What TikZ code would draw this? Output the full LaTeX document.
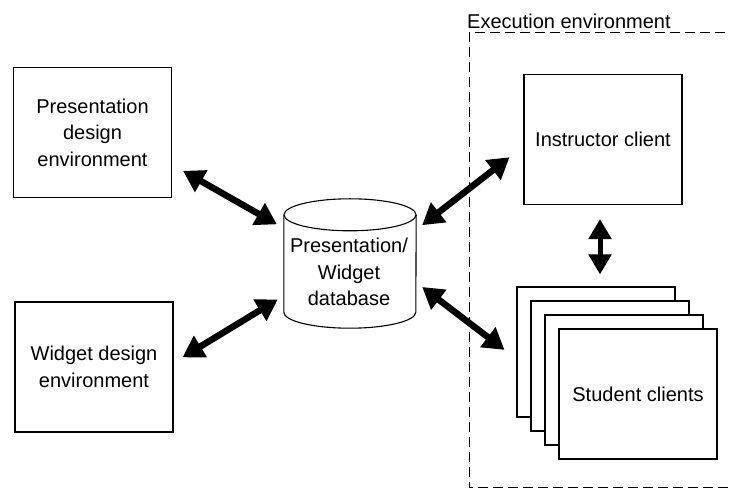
\documentclass[tikz,border=0pt]{standalone}
\usepackage{fontspec}
\setmainfont{Liberation Sans}
\usetikzlibrary{arrows.meta}

\begin{document}
\begin{tikzpicture}[
  x=1pt,y=1pt,
  every node/.style={font=\fontsize{20}{26.5}\selectfont},
  box/.style={draw,line width=1.1pt,fill=white,inner sep=0pt,
              minimum width=158pt,minimum height=130pt,align=center},
  link/.style={line width=6.5pt,<->,>={Triangle[length=21pt,width=24pt]}}
]
  \useasboundingbox (0,0) rectangle (729,490);

  % execution environment, open on the right
  \draw[line width=1pt,dash pattern=on 10pt off 5pt]
    (740,457) -- (469,457) -- (469,2) -- (740,2);
  \node[anchor=base west,inner sep=0pt] (envlabel) at (467,461) {Execution environment};

  % design tools
  \node[box] (pde) at (92.5,357.5) {Presentation\\design\\environment};
  \node[box] (wde) at (94,123) {Widget design\\environment};

  % database cylinder
  \node[inner sep=0pt,minimum width=132pt,minimum height=129pt] (db) at (350,226.5) {};
  \draw[line width=1.1pt] (db.north) ++(0,-16) ellipse [x radius=66, y radius=16];
  \draw[line width=1.1pt] ([yshift=-16pt]db.north west) -- ([yshift=16pt]db.south west)
    arc[start angle=180,end angle=360,x radius=66,y radius=16]
    -- ([yshift=-16pt]db.north east);
  \node[align=center,inner sep=0pt] (dbtext) at (349,218) {Presentation/\\Widget\\database};

  % clients
  \node[box] (ic) at (603,350.5) {Instructor client};
  \node[box] (s1) at (596,138) {};
  \node[box] (s2) at (610,124) {};
  \node[box] (s3) at (624,110) {};
  \node[box] (s4) at (638,96) {Student clients};

  % links
  \draw[link,shorten <=12.6pt,shorten >=8pt] (pde.-22.7) -- (db.152.4);
  \draw[link,shorten <=10.5pt,shorten >=7pt] (wde.3.3) -- (db.206.5);
  \draw[link,shorten <=7.5pt,shorten >=17.6pt] (db.27.3) -- (ic.185.6);
  \draw[link,shorten <=7.5pt,shorten >=15pt] (db.-16.9) -- (s1.185.1);
  \draw[link,line width=5pt,>={Triangle[length=20pt,width=22pt]},shorten <=14pt,shorten >=12pt]
    ([xshift=-3pt]ic.south) -- ([xshift=-3pt]ic.south |- s1.north);
\end{tikzpicture}
\end{document}
